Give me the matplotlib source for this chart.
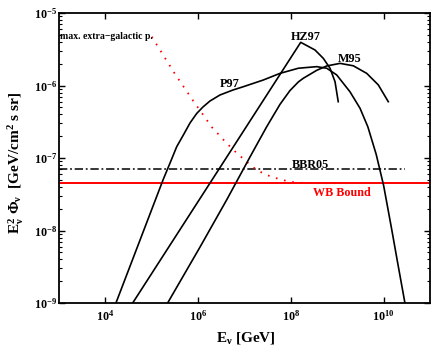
import matplotlib
matplotlib.use('Agg')
import matplotlib.pyplot as plt
from matplotlib.ticker import (LogLocator, NullLocator, FixedLocator,
                               LogFormatterMathtext, NullFormatter)

plt.rcParams['font.family'] = ['Liberation Serif', 'DejaVu Serif']
plt.rcParams['font.weight'] = 'bold'
plt.rcParams['mathtext.fontset'] = 'custom'
plt.rcParams['mathtext.rm'] = 'Liberation Serif:bold'
plt.rcParams['mathtext.it'] = 'Liberation Serif:bold'
plt.rcParams['mathtext.bf'] = 'Liberation Serif:bold'
plt.rcParams['mathtext.default'] = 'rm'
plt.rcParams['lines.scale_dashes'] = False

# ---- data (E in GeV, E^2 Phi in GeV/cm^2 s sr) ----
p97_e = [1.69e4, 1.75e5, 2.48e5, 3.45e5, 4.79e5, 6.68e5, 9.31e5, 1.27e6, 1.80e6,
         2.96e6, 5.65e6, 9.42e6, 2.54e7, 5.82e7, 1.45e8, 3.61e8, 5.93e8, 9.72e8,
         1.88e9, 3.10e9, 4.57e9, 6.92e9, 1.0e10, 1.48e10, 2.0e10, 2.88e10]
p97_f = [1.0e-9, 4.98e-8, 8.53e-8, 1.43e-7, 2.07e-7, 3.04e-7, 4.11e-7, 5.05e-7, 6.11e-7,
         7.40e-7, 8.67e-7, 9.62e-7, 1.19e-6, 1.47e-6, 1.73e-6, 1.82e-6, 1.73e-6, 1.40e-6,
         8.20e-7, 4.85e-7, 2.69e-7, 1.12e-7, 4.17e-8, 1.07e-8, 3.63e-9, 1.0e-9]

hz97_e = [3.88e4, 1.63e8, 3.31e8, 5.00e8, 6.98e8, 8.95e8, 1.05e9]
hz97_f = [1.0e-9, 3.94e-6, 3.09e-6, 2.37e-6, 1.73e-6, 1.13e-6, 5.98e-7]

m95_e = [2.20e5, 1.10e6, 4.12e6, 1.32e7, 3.01e7, 5.83e7, 9.55e7, 1.45e8, 1.86e8,
         3.61e8, 5.93e8, 1.15e9, 2.22e9, 4.32e9, 7.67e9, 1.26e10]
m95_f = [1.0e-9, 5.92e-9, 2.64e-8, 1.04e-7, 2.70e-7, 5.50e-7, 8.51e-7, 1.12e-6, 1.26e-6,
         1.62e-6, 1.86e-6, 2.02e-6, 1.87e-6, 1.47e-6, 1.02e-6, 5.98e-7]

maxeg_e = [1e5, 3.13e5, 7.87e5, 1.99e6, 4.12e6, 6.79e6, 1.11e7, 1.83e7, 3.01e7,
           4.94e7, 8.13e7, 1.33e8, 3.16e8, 1e9]
maxeg_f = [4.71e-6, 1.46e-6, 6.11e-7, 2.65e-7, 1.60e-7, 1.17e-7, 8.89e-8, 6.82e-8, 5.83e-8,
           5.25e-8, 4.82e-8, 4.56e-8, 4.5e-8, 4.5e-8]

wb_e = [1e3, 1e11]
wb_f = [4.5e-8, 4.5e-8]

bbr05_e = [1e3, 2.85e10]
bbr05_f = [7.0e-8, 7.0e-8]

x_ticks = [1e4, 1e6, 1e8, 1e10]

# ---- figure ----
fig = plt.figure(figsize=(4.36, 3.46), dpi=100)
ax = fig.add_axes([59/436, 1-303/346, 371/436, 290/346])
ax.set_xscale('log')
ax.set_yscale('log')
ax.set_xlim(1e3, 1e11)
ax.set_ylim(1e-9, 1e-5)

lw = 1.2
ax.plot(wb_e, wb_f, color='#ff0000', lw=1.4, solid_capstyle='butt')
ax.plot(bbr05_e, bbr05_f, color='black', lw=1.1, linestyle=(0, (6, 2, 1.3, 2)))
ax.plot(maxeg_e, maxeg_f, color='#ff0000', lw=1.3, linestyle=(0, (1.2, 4.8)))
ax.plot(p97_e, p97_f, color='black', lw=lw)
ax.plot(hz97_e, hz97_f, color='black', lw=lw)
ax.plot(m95_e, m95_f, color='black', lw=lw)

tk = dict(ha='center', va='baseline', fontsize=8.7, fontweight='bold')
ax.text(10**8.326, 10**-5.372, 'HZ97', **tk)
ax.text(10**9.26, 10**-5.676, 'M95', **tk)
ax.text(10**6.687, 10**-6.021, 'P97', **tk)
ax.text(10**8.412, 10**-7.138, 'BBR05', **tk)
ax.text(10**9.109, 10**-7.524, 'WB Bound', color='#ff0000', **tk)
ax.text(10**3.02, 10**-5.359, 'max. extra\u2212galactic p.', ha='left', va='baseline',
        fontsize=7, fontweight='bold')

ax.xaxis.set_major_locator(FixedLocator(x_ticks))
ax.xaxis.set_major_formatter(LogFormatterMathtext())
ax.xaxis.set_minor_locator(NullLocator())
ax.yaxis.set_major_locator(FixedLocator([1e-9, 1e-8, 1e-7, 1e-6, 1e-5]))
ax.yaxis.set_major_formatter(LogFormatterMathtext())
ax.yaxis.set_minor_locator(LogLocator(base=10, subs=range(2, 10), numticks=20))
ax.yaxis.set_minor_formatter(NullFormatter())

ax.tick_params(which='both', direction='in', top=True, right=True, labelsize=8.7)
ax.tick_params(which='major', length=4, width=1.0)
ax.tick_params(which='minor', length=2.2, width=0.8)
ax.tick_params(axis='y', which='major', pad=1.5)
ax.tick_params(axis='x', which='major', pad=4)
for s in ax.spines.values():
    s.set_linewidth(1.3)

ax.set_xlabel(r'$\mathrm{E}_{\nu}$ [GeV]', fontsize=11, fontweight='bold')
ax.set_ylabel(r'$\mathrm{E}_{\nu}^{2}\ \Phi_{\nu}$  [GeV/$\mathrm{cm}^{2}$ s sr]',
              fontsize=11, fontweight='bold')
ax.xaxis.set_label_coords(0.505, -0.093)
ax.yaxis.set_label_coords(-0.089, 0.483)

fig.savefig('out.png', dpi=100)
